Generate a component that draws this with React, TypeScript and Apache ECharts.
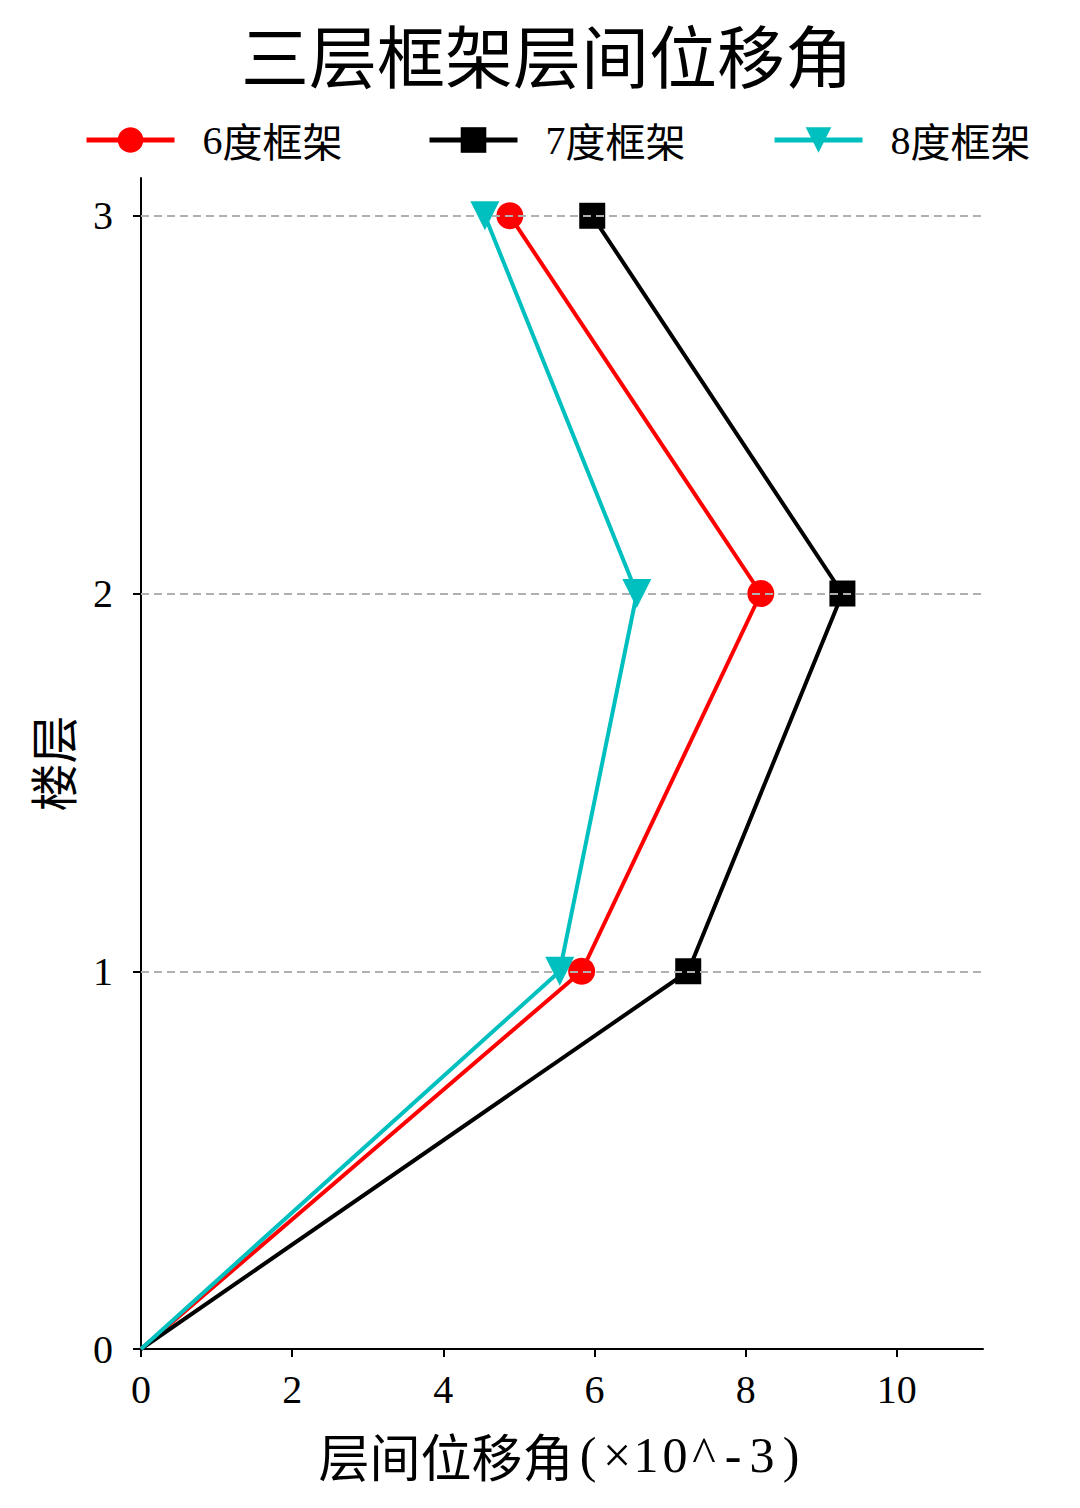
import React, { useEffect, useRef } from 'react';
import * as echarts from 'echarts';

const floors = [0, 1, 2, 3];
const drift6 = [0, 5.83, 8.2, 4.88];
const drift7 = [0, 7.24, 9.28, 5.97];
const drift8 = [0, 5.54, 6.56, 4.55];
const seriesNames = ['6度框架', '7度框架', '8度框架'];
const seriesColors = ['#ff0000', '#000000', '#00bfbf'];
const xTicks = [0, 2, 4, 6, 8, 10];
const yTicks = [0, 1, 2, 3];
const gridFloors = [1, 2, 3];
const xNameCjk = '层间位移角';
const xNameUnit = ['(', '×', '1', '0', '^', '-', '3', ')'];

const SERIF = 'Liberation Serif';
const CJK = 'Noto Sans CJK SC';
const FONT_B = 'Liberation Serif, Noto Sans CJK SC, serif';

function toPoints(vals: number[]) {
  return vals.map((v, i) => {
    if (i === 0) return { value: [v, floors[i]], symbol: 'none' };
    return { value: [v, floors[i]] };
  });
}

export default function App() {
  const ref = useRef<HTMLDivElement>(null);
  useEffect(() => {
    document.body.style.margin = '0';
    const chart = echarts.init(ref.current!, undefined, { renderer: 'svg' });
    const symbols = ['circle', 'rect', 'path://M0,0L2,0L1,2Z'];
    const sizes = [27, 26, 29];
    const datas = [drift6, drift7, drift8];
    const legendLefts = [79, 422, 767];
    chart.setOption({
      animation: false,
      backgroundColor: '#ffffff',
      textStyle: { fontFamily: FONT_B },
      title: {
        text: '三层框架层间位移角',
        left: 236,
        top: 14,
        textStyle: { fontFamily: CJK, fontSize: 68, fontWeight: 'normal', color: '#000' },
      },
      legend: seriesNames.map((n, i) => ({
        data: [n],
        left: legendLefts[i],
        top: 115,
        itemWidth: 88,
        itemHeight: 32,
        lineStyle: { width: 5 },
        formatter: (name: string) => `{n|${name.slice(0, 1)}}{c|${name.slice(1)}}`,
        textStyle: {
          fontFamily: FONT_B,
          fontSize: 39,
          color: '#000',
          padding: [0, 0, 0, 23],
          rich: {
            n: { fontFamily: SERIF, fontSize: 40, color: '#000' },
            c: { fontFamily: CJK, fontSize: 40, color: '#000' },
          },
        },
      })),
      grid: { left: 141, right: 97, top: 178, bottom: 159, containLabel: false },
      xAxis: {
        type: 'value',
        min: 0,
        max: 11.14,
        interval: 2,
        name: `{a|${xNameCjk}}` + xNameUnit.map((c) => `{c|${c}}`).join(''),
        nameLocation: 'middle',
        nameGap: 80,
        nameTextStyle: {
          fontFamily: FONT_B,
          fontSize: 51,
          color: '#000',
          rich: {
            a: { fontFamily: CJK, fontSize: 51, color: '#000' },
            c: { fontFamily: SERIF, fontSize: 50, color: '#000', width: 29, align: 'center' },
          },
        },
        axisLine: { show: true, lineStyle: { color: '#000', width: 2 } },
        axisTick: { show: true, length: 8, lineStyle: { color: '#000', width: 2 }, customValues: xTicks },
        axisLabel: {
          fontFamily: SERIF,
          fontSize: 40,
          color: '#000',
          margin: 20,
          customValues: xTicks,
          formatter: (v: number) => (xTicks.includes(v) ? String(v) : ''),
        },
        splitLine: { show: false },
      },
      yAxis: {
        type: 'value',
        min: 0,
        max: 3.1,
        interval: 1,
        name: '楼层',
        nameLocation: 'middle',
        nameGap: 66,
        nameRotate: 90,
        nameTextStyle: { fontFamily: CJK, fontSize: 48, color: '#000' },
        axisLine: { show: true, lineStyle: { color: '#000', width: 2 } },
        axisTick: { show: true, length: 8, lineStyle: { color: '#000', width: 2 }, customValues: yTicks },
        axisLabel: {
          fontFamily: SERIF,
          fontSize: 40,
          color: '#000',
          margin: 28,
          customValues: yTicks,
          formatter: (v: number) => (yTicks.includes(v) ? String(v) : ''),
        },
        splitLine: { show: false },
      },
      series: [
        {
          name: 'grid',
          type: 'line',
          data: [],
          z: 1,
          silent: true,
          markLine: {
            silent: true,
            symbol: 'none',
            label: { show: false },
            lineStyle: { color: '#b0b0b0', type: [8, 5], width: 2 },
            data: gridFloors.map((f) => ({ yAxis: f })),
          },
        },
        ...seriesNames.map((n, i) => ({
          name: n,
          type: 'line',
          data: toPoints(datas[i]),
          z: 3 + i,
          symbol: symbols[i],
          symbolSize: sizes[i],
          showAllSymbol: true,
          color: seriesColors[i],
          lineStyle: { color: seriesColors[i], width: 4 },
          itemStyle: { color: seriesColors[i] },
        })),
      ],
    });
    return () => chart.dispose();
  }, []);
  return <div ref={ref} style={{ width: 1080, height: 1508 }} />;
}
